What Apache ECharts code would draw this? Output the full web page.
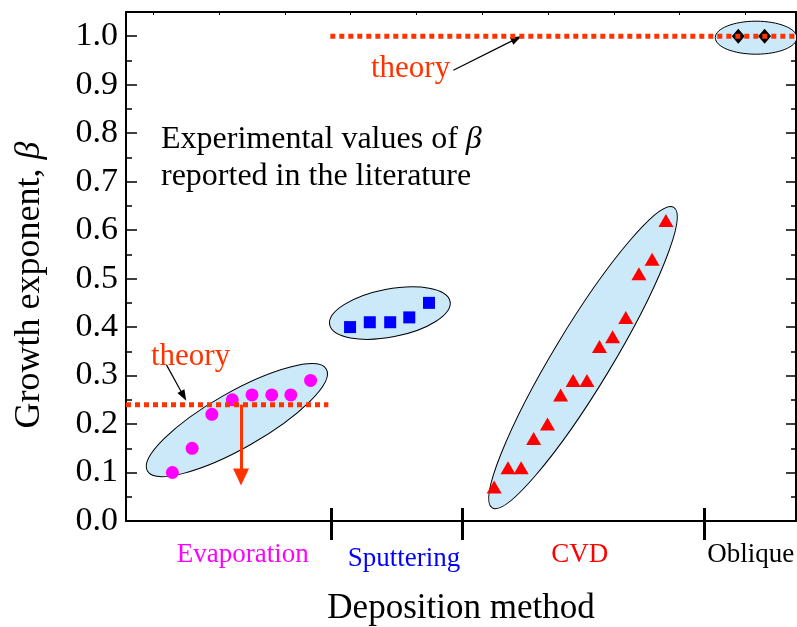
<!DOCTYPE html>
<html>
<head>
<meta charset="utf-8">
<script src="https://cdn.jsdelivr.net/npm/echarts@6/dist/echarts.min.js"></script>
<style>
  html, body { margin: 0; padding: 0; background: #fff; }
  #main { width: 797px; height: 627px; }
</style>
</head>
<body>
<div id="main"></div>
<script>
// measured values (x in arbitrary axis units, y = growth exponent beta)
var evapX = [0.29, 0.59, 0.89, 1.20, 1.50, 1.80, 2.09, 2.39];
var evapY = [0.10, 0.15, 0.22, 0.25, 0.26, 0.26, 0.26, 0.29];
var sputX = [2.99, 3.29, 3.60, 3.89, 4.19];
var sputY = [0.40, 0.41, 0.41, 0.42, 0.45];
var cvdX = [5.18, 5.39, 5.59, 5.78, 5.99, 6.19, 6.38, 6.59, 6.78, 6.98, 7.18, 7.38, 7.58, 7.79];
var cvdY = [0.07, 0.11, 0.11, 0.17, 0.20, 0.26, 0.29, 0.29, 0.36, 0.38, 0.42, 0.51, 0.54, 0.62];
var obliqueX = [8.89, 9.29];
var obliqueY = [1.00, 1.00];

var methods = ['Evaporation', 'Sputtering', 'CVD', 'Oblique'];
var methodCenters = [1.36, 3.81, 6.48, 9.08];
var methodBounds = [2.70, 4.69, 8.38];
var topTicks = [0, 1, 2, 3, 4, 5, 6, 7, 8, 9];

// theory lines: [xFrom, xTo, beta]
var theoryHigh = [2.69, 9.77, 1.0];
var theoryLow = [-0.415, 2.66, 0.24];

// group ellipses: major axis ends [x1, y1, x2, y2]
var ellipseEnds = [
  [-0.09, 0.103, 2.63, 0.313],
  [2.68, 0.405, 4.51, 0.453],
  [5.15, 0.027, 7.91, 0.647],
  [8.54, 0.997, 9.78, 0.997]
];
var ellipseHalfWidth = [28, 24, 29, 16.5];

// arrows: [x1, y1, x2, y2]
var arrowHigh = [4.56, 0.930, 5.52, 0.995];
var arrowLow = [0.20, 0.322, 0.46, 0.258];
var dropArrow = [1.333, 0.24, 1.333, 0.091];

var FONT = 'Liberation Serif';
var ORANGE = '#ff3300';

function pairs(xs, ys) {
  return xs.map(function (x, i) { return [x, ys[i]]; });
}

var dom = document.getElementById('main');
var myChart = echarts.init(dom, null, { renderer: 'canvas' });

function arrowLine(a, color, width, head) {
  return [
    { coord: [a[0], a[1]], symbol: 'none', lineStyle: { color: color, width: width, type: 'solid' } },
    { coord: [a[2], a[3]], symbol: 'triangle', symbolSize: head }
  ];
}

var option = {
  backgroundColor: '#fff',
  animation: false,
  grid: { left: 126, right: 1, top: 12, bottom: 106, containLabel: false, outerBoundsMode: 'none' },
  xAxis: [
    {
      type: 'value', position: 'bottom', min: -0.415, max: 9.767,
      splitLine: { show: false },
      axisLine: { onZero: false, lineStyle: { color: '#000', width: 2 } },
      axisTick: { show: true, inside: false, length: 19, customValues: methodBounds,
        lineStyle: { color: '#000', width: 3 } },
      axisLabel: {
        customValues: methodCenters, margin: 20,
        fontFamily: FONT, fontSize: 27,
        formatter: function (v) {
          var i = methodCenters.indexOf(v);
          return '{m' + i + '|' + methods[i] + '}';
        },
        rich: {
          m0: { color: '#ff00ff', fontFamily: FONT, fontSize: 27 },
          m1: { color: '#0000ff', fontFamily: FONT, fontSize: 27, padding: [4, 0, 0, 0] },
          m2: { color: '#ff0000', fontFamily: FONT, fontSize: 27 },
          m3: { color: '#000000', fontFamily: FONT, fontSize: 27 }
        }
      },
      name: 'Deposition method', nameLocation: 'middle', nameGap: 70,
      nameTextStyle: { fontFamily: FONT, fontSize: 35, color: '#000' }
    },
    {
      type: 'value', position: 'bottom', min: -0.415, max: 9.767,
      splitLine: { show: false }, axisLine: { show: false, onZero: false }, axisLabel: { show: false },
      axisTick: { show: true, inside: true, length: 13, customValues: methodBounds,
        lineStyle: { color: '#000', width: 3 } }
    },
    {
      type: 'value', position: 'top', min: -0.415, max: 9.767,
      splitLine: { show: false }, axisLabel: { show: false },
      axisLine: { onZero: false, lineStyle: { color: '#000', width: 2 } },
      axisTick: { show: true, inside: true, length: 3, customValues: topTicks,
        lineStyle: { color: '#000', width: 1 } }
    }
  ],
  yAxis: [
    {
      type: 'value', position: 'left', min: 0, max: 1.05, interval: 0.1,
      splitLine: { show: false },
      axisLine: { show: true, onZero: false, lineStyle: { color: '#000', width: 2 } },
      axisTick: { inside: true, length: 11, lineStyle: { color: '#000', width: 1.5 } },
      axisLabel: {
        showMaxLabel: false, margin: 8, color: '#000', fontFamily: FONT, fontSize: 34,
        formatter: function (v) { return v.toFixed(1); }
      },
      name: 'Growth exponent, {b|β}', nameLocation: 'middle', nameGap: 78, nameRotate: 90,
      nameTextStyle: {
        fontFamily: FONT, fontSize: 36, color: '#000', padding: [0, 37, 0, 0],
        rich: { b: { fontFamily: FONT, fontSize: 36, fontStyle: 'italic' } }
      }
    },
    {
      type: 'value', position: 'left', min: 0, max: 1.05, interval: 0.05,
      splitLine: { show: false }, axisLine: { show: false, onZero: false }, axisLabel: { show: false },
      axisTick: { inside: true, length: 6, lineStyle: { color: '#000', width: 1.5 } }
    },
    {
      type: 'value', position: 'right', min: 0, max: 1.05, interval: 0.1,
      splitLine: { show: false }, axisLabel: { show: false },
      axisLine: { show: true, onZero: false, lineStyle: { color: '#000', width: 2 } },
      axisTick: { inside: true, length: 10, lineStyle: { color: '#000', width: 1.5 } }
    },
    {
      type: 'value', position: 'right', min: 0, max: 1.05, interval: 0.05,
      splitLine: { show: false }, axisLine: { show: false, onZero: false }, axisLabel: { show: false },
      axisTick: { inside: true, length: 5, lineStyle: { color: '#000', width: 1.5 } }
    }
  ],
  graphic: [
    { type: 'text', left: 161, top: 124, z: 100,
      style: { text: 'Experimental values of {b|β}', fontFamily: FONT, fontSize: 32, fill: '#000',
        rich: { b: { fontFamily: FONT, fontSize: 32, fontStyle: 'italic' } } } },
    { type: 'text', left: 161, top: 161, z: 100,
      style: { text: 'reported in the literature', fontFamily: FONT, fontSize: 32, fill: '#000' } },
    { type: 'text', left: 371, top: 53, z: 100,
      style: { text: 'theory', fontFamily: FONT, fontSize: 31, fill: ORANGE } },
    { type: 'text', left: 151, top: 341, z: 100,
      style: { text: 'theory', fontFamily: FONT, fontSize: 31, fill: ORANGE } }
  ],
  series: [
    {
      name: 'groups', type: 'custom', clip: true, z: 1,
      encode: { x: [0, 2], y: [1, 3] },
      data: ellipseEnds,
      renderItem: function (params, api) {
        var p1 = api.coord([api.value(0), api.value(1)]);
        var p2 = api.coord([api.value(2), api.value(3)]);
        var dx = p2[0] - p1[0], dy = p2[1] - p1[1];
        return {
          type: 'ellipse',
          x: (p1[0] + p2[0]) / 2,
          y: (p1[1] + p2[1]) / 2,
          rotation: -Math.atan2(dy, dx),
          shape: { cx: 0, cy: 0, rx: Math.sqrt(dx * dx + dy * dy) / 2, ry: ellipseHalfWidth[params.dataIndex] },
          style: { fill: '#cce9f9', stroke: '#000', lineWidth: 1 }
        };
      }
    },
    {
      name: 'Evaporation', type: 'scatter', z: 3, data: pairs(evapX, evapY),
      symbol: 'circle', symbolSize: 13, itemStyle: { color: '#ff00ff', opacity: 1 }
    },
    {
      name: 'Sputtering', type: 'scatter', z: 3, data: pairs(sputX, sputY),
      symbol: 'rect', symbolSize: 12, itemStyle: { color: '#0000ff', opacity: 1 }
    },
    {
      name: 'CVD', type: 'scatter', z: 3, data: pairs(cvdX, cvdY),
      symbol: 'triangle', symbolSize: [15, 13], itemStyle: { color: '#ff0000', opacity: 1 }
    },
    {
      name: 'Oblique', type: 'scatter', z: 3, data: pairs(obliqueX, obliqueY),
      symbol: 'diamond', symbolSize: [13, 15], itemStyle: { color: '#000', opacity: 1 }
    },
    {
      name: 'theory high', type: 'line', z: 5, clip: true, showSymbol: false, silent: true,
      data: [[theoryHigh[0], theoryHigh[2]], [theoryHigh[1], theoryHigh[2]]],
      lineStyle: { color: ORANGE, width: 5, type: [5, 4], cap: 'butt' },
      markLine: {
        silent: true, animation: false, label: { show: false },
        data: [arrowLine(arrowHigh, '#000', 1.2, [8, 11])]
      }
    },
    {
      name: 'theory low', type: 'line', z: 5, clip: true, showSymbol: false, silent: true,
      data: [[theoryLow[0], theoryLow[2]], [theoryLow[1], theoryLow[2]]],
      lineStyle: { color: ORANGE, width: 5, type: [5, 4], cap: 'butt' },
      markLine: {
        silent: true, animation: false, label: { show: false },
        data: [
          arrowLine(arrowLow, '#000', 1.2, [8, 11]),
          arrowLine(dropArrow, ORANGE, 3, [16, 17])
        ]
      }
    }
  ]
};

option && myChart.setOption(option);
</script>
</body>
</html>
